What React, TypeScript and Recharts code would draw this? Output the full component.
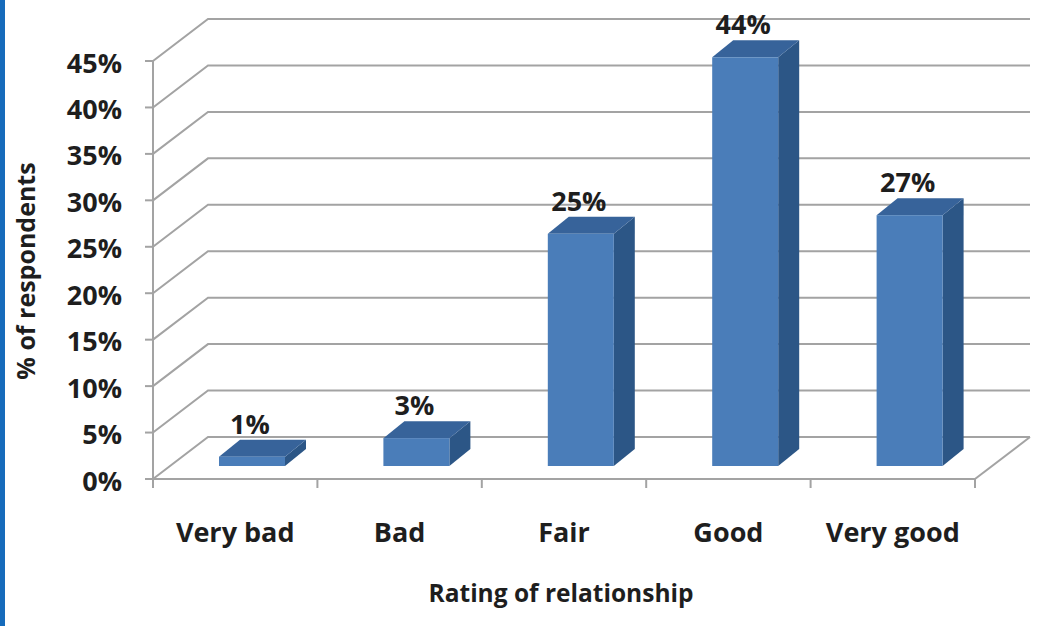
import React from 'react'
import { BarChart, Bar, XAxis, YAxis, CartesianGrid, ReferenceLine, LabelList } from 'recharts'

const categories = ['Very bad', 'Bad', 'Fair', 'Good', 'Very good']
const percents = [1, 3, 25, 44, 27]
const yTicks = [0, 5, 10, 15, 20, 25, 30, 35, 40, 45]

const data = categories.map((name, i) => ({ name, value: percents[i] }))

// fake 3D: back wall offset and bar depth
const WALL = { dx: 55, dy: -42 }
const SHIFT = { dx: 17, dy: -13 }
const DEPTH = { dx: 21, dy: -17 }

const FONT = '"Open Sans", sans-serif'
const GRID = '#a3a3a3'
const TEXT = '#1e1e1e'

if (typeof document !== 'undefined') document.body.style.margin = '0'

function WallLine(props: any) {
  const { x1, y1, x2 } = props
  return (
    <path
      d={`M${x1},${y1} L${x1 + WALL.dx},${y1 + WALL.dy} L${x2 + WALL.dx},${y1 + WALL.dy}`}
      fill="none"
      stroke={GRID}
      strokeWidth={2}
    />
  )
}

function FloorEdge(props: any) {
  const { x2, y1 } = props
  return (
    <path
      d={`M${x2 + WALL.dx},${y1 + WALL.dy} L${x2},${y1}`}
      fill="none"
      stroke={GRID}
      strokeWidth={2}
    />
  )
}

function Box(props: any) {
  const { x, y, width: w, height: h } = props
  const fx = x + SHIFT.dx
  const fy = y + SHIFT.dy
  const { dx, dy } = DEPTH
  return (
    <g>
      <polygon
        points={`${fx + w},${fy} ${fx + w + dx},${fy + dy} ${fx + w + dx},${fy + h + dy} ${fx + w},${fy + h}`}
        fill="#2c5686"
      />
      <polygon
        points={`${fx},${fy} ${fx + dx},${fy + dy} ${fx + w + dx},${fy + dy} ${fx + w},${fy}`}
        fill="#37639a"
      />
      <rect x={fx} y={fy} width={w} height={h} fill="#4a7db9" />
    </g>
  )
}

function ValueLabel(props: any) {
  const { x, y, width, value } = props
  return (
    <text
      x={x + SHIFT.dx + width / 2 - 2}
      y={y + SHIFT.dy + DEPTH.dy - 6}
      textAnchor="middle"
      fontFamily={FONT}
      fontWeight={700}
      fontSize={27}
      fill={TEXT}
    >
      {value}%
    </text>
  )
}

function CategoryTick(props: any) {
  const { x, y, payload, index, width, visibleTicksCount } = props
  const band = (width || 822) / (visibleTicksCount || categories.length)
  const top = y - 8
  return (
    <g>
      <line x1={x - band / 2} y1={top} x2={x - band / 2} y2={top + 9} stroke={GRID} strokeWidth={2} />
      {index === categories.length - 1 && (
        <line x1={x + band / 2} y1={top} x2={x + band / 2} y2={top + 9} stroke={GRID} strokeWidth={2} />
      )}
      <text
        x={x}
        y={top + 52}
        textAnchor="middle"
        dominantBaseline="central"
        fontFamily={FONT}
        fontWeight={700}
        fontSize={27}
        fill={TEXT}
      >
        {payload.value}
      </text>
    </g>
  )
}

export default function App() {
  return (
    <div style={{ position: 'relative', width: 1046, height: 626, background: '#fff' }}>
      <div style={{ position: 'absolute', left: 0, top: 0, width: 5, height: 626, background: '#166bbb' }} />
      <BarChart
        width={1046}
        height={626}
        data={data}
        margin={{ top: 61, right: 71, bottom: 0, left: 0 }}
        barSize={66}
      >
        <CartesianGrid vertical={false} horizontal={(p: any) => <WallLine {...p} />} />
        <ReferenceLine y={0} shape={(p: any) => <FloorEdge {...p} />} />
        <XAxis
          dataKey="name"
          height={147}
          interval={0}
          axisLine={{ stroke: GRID, strokeWidth: 2 }}
          tickLine={false}
          tick={<CategoryTick />}
          label={{
            content: (p: any) => {
              const vb = p.viewBox
              return (
                <text
                  x={vb.x + vb.width / 2 - 3}
                  y={vb.y + 113}
                  textAnchor="middle"
                  dominantBaseline="central"
                  fontFamily={FONT}
                  fontWeight={700}
                  fontSize={24.5}
                  fill={TEXT}
                >
                  Rating of relationship
                </text>
              )
            },
          }}
        />
        <YAxis
          width={153}
          domain={[0, 45]}
          ticks={yTicks}
          tickFormatter={(v) => `${v}%`}
          axisLine={{ stroke: GRID, strokeWidth: 2 }}
          tickLine={{ stroke: GRID, strokeWidth: 2 }}
          tickSize={8}
          tickMargin={23}
          tick={{ fontFamily: FONT, fontWeight: 700, fontSize: 27, fill: TEXT, dy: 2 }}
          label={{
            content: (p: any) => {
              const vb = p.viewBox
              const cx = vb.x + 25
              const cy = vb.y + vb.height / 2 + 1
              return (
                <text
                  x={cx}
                  y={cy}
                  transform={`rotate(-90, ${cx}, ${cy})`}
                  textAnchor="middle"
                  dominantBaseline="central"
                  fontFamily={FONT}
                  fontWeight={700}
                  fontSize={25}
                  fill={TEXT}
                >
                  % of respondents
                </text>
              )
            },
          }}
        />
        <Bar dataKey="value" shape={<Box />} isAnimationActive={false}>
          <LabelList dataKey="value" content={<ValueLabel />} />
        </Bar>
      </BarChart>
    </div>
  )
}
